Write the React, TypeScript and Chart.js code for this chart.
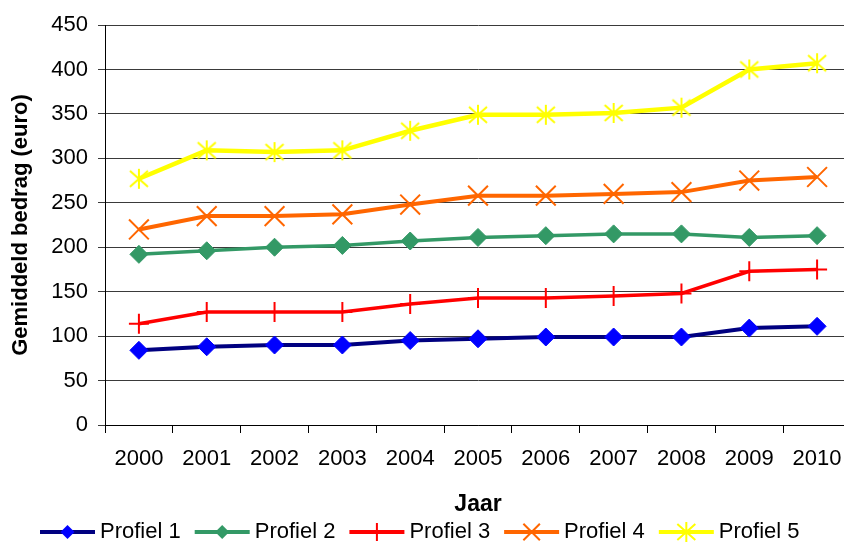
import React, { useEffect, useRef } from "react";
import { Chart, registerables } from "chart.js";

Chart.register(...registerables);

const years = ["2000", "2001", "2002", "2003", "2004", "2005", "2006", "2007", "2008", "2009", "2010"];
const profiel1 = [84, 88, 90, 90, 95, 97, 99, 99, 99, 109, 111];
const profiel2 = [192, 196, 200, 202, 207, 211, 213, 215, 215, 211, 213];
const profiel3 = [114, 127, 127, 127, 136, 143, 143, 145, 148, 173, 175];
const profiel4 = [220, 235, 235, 237, 248, 258, 258, 260, 262, 275, 279];
const profiel5 = [277, 309, 307, 309, 331, 349, 349, 351, 357, 400, 407];
const seriesNames = ["Profiel 1", "Profiel 2", "Profiel 3", "Profiel 4", "Profiel 5"];
const yTicks = [0, 50, 100, 150, 200, 250, 300, 350, 400, 450];

const FONT = "'Liberation Sans', Arial, sans-serif";

function makeStar(color: string, r: number, lw: number) {
  const size = Math.ceil(r * 2 + lw * 2 + 2);
  const c = document.createElement("canvas");
  c.width = size;
  c.height = size;
  const ctx = c.getContext("2d")!;
  const cx = size / 2;
  const cy = size / 2;
  ctx.strokeStyle = color;
  ctx.lineWidth = lw;
  ctx.beginPath();
  ctx.moveTo(cx, cy - r);
  ctx.lineTo(cx, cy + r);
  ctx.moveTo(cx - r * 0.9, cy - r * 0.8);
  ctx.lineTo(cx + r * 0.9, cy + r * 0.8);
  ctx.moveTo(cx + r * 0.9, cy - r * 0.8);
  ctx.lineTo(cx - r * 0.9, cy + r * 0.8);
  ctx.stroke();
  return c;
}

function drawMarker(ctx: CanvasRenderingContext2D, style: string, x: number, y: number, r: number, color: string) {
  ctx.save();
  ctx.fillStyle = color;
  ctx.strokeStyle = color;
  ctx.lineWidth = 2;
  ctx.beginPath();
  if (style === "rectRot") {
    ctx.moveTo(x - r, y);
    ctx.lineTo(x, y - r);
    ctx.lineTo(x + r, y);
    ctx.lineTo(x, y + r);
    ctx.closePath();
    ctx.fill();
  } else if (style === "cross") {
    ctx.moveTo(x, y - r);
    ctx.lineTo(x, y + r);
    ctx.moveTo(x - r, y);
    ctx.lineTo(x + r, y);
    ctx.stroke();
  } else if (style === "crossRot") {
    const d = r * 0.75;
    ctx.moveTo(x - d, y - d);
    ctx.lineTo(x + d, y + d);
    ctx.moveTo(x + d, y - d);
    ctx.lineTo(x - d, y + d);
    ctx.stroke();
  } else if (style === "star") {
    ctx.moveTo(x, y - r);
    ctx.lineTo(x, y + r);
    ctx.moveTo(x - r * 0.9, y - r * 0.8);
    ctx.lineTo(x + r * 0.9, y + r * 0.8);
    ctx.moveTo(x + r * 0.9, y - r * 0.8);
    ctx.lineTo(x - r * 0.9, y + r * 0.8);
    ctx.stroke();
  }
  ctx.restore();
}

export default function App() {
  const ref = useRef<HTMLCanvasElement | null>(null);

  useEffect(() => {
    if (!ref.current) return;
    const star = makeStar("#FFFF00", 10, 2);

    const legendInfo = [
      { line: "#000080", marker: "#0000FF", style: "rectRot", r: 7, lw: 4 },
      { line: "#339966", marker: "#339966", style: "rectRot", r: 7, lw: 4 },
      { line: "#FF0000", marker: "#FF0000", style: "cross", r: 9, lw: 4 },
      { line: "#FF6600", marker: "#FF6600", style: "crossRot", r: 11, lw: 4 },
      { line: "#FFFF00", marker: "#FFFF00", style: "star", r: 10, lw: 4 },
    ];

    const legendPlugin = {
      id: "customLegend",
      afterDraw(chart: any) {
        const ctx = chart.ctx as CanvasRenderingContext2D;
        ctx.save();
        ctx.font = `22px ${FONT}`;
        ctx.textBaseline = "middle";
        ctx.textAlign = "left";
        let x = 40;
        const y = 532;
        seriesNames.forEach((name, i) => {
          const info = legendInfo[i];
          ctx.strokeStyle = info.line;
          ctx.lineWidth = info.lw;
          ctx.beginPath();
          ctx.moveTo(x, y);
          ctx.lineTo(x + 55, y);
          ctx.stroke();
          drawMarker(ctx, info.style, x + 27.5, y, info.r, info.marker);
          ctx.fillStyle = "#000000";
          ctx.fillText(name, x + 60, y);
          x += 60 + ctx.measureText(name).width + 14;
        });
        ctx.restore();
      },
    };

    const chart = new Chart(ref.current, {
      type: "line",
      data: {
        labels: years,
        datasets: [
          {
            label: seriesNames[0],
            data: profiel1,
            borderColor: "#000080",
            backgroundColor: "#0000FF",
            borderWidth: 4,
            pointStyle: "rectRot",
            pointRadius: 9,
            pointBorderWidth: 1,
            pointBorderColor: "#0000FF",
            pointBackgroundColor: "#0000FF",
          },
          {
            label: seriesNames[1],
            data: profiel2,
            borderColor: "#339966",
            backgroundColor: "#339966",
            borderWidth: 3.5,
            pointStyle: "rectRot",
            pointRadius: 9,
            pointBorderWidth: 1,
            pointBorderColor: "#339966",
            pointBackgroundColor: "#339966",
          },
          {
            label: seriesNames[2],
            data: profiel3,
            borderColor: "#FF0000",
            backgroundColor: "#FF0000",
            borderWidth: 3.5,
            pointStyle: "cross",
            pointRadius: 10,
            pointBorderWidth: 2,
            pointBorderColor: "#FF0000",
          },
          {
            label: seriesNames[3],
            data: profiel4,
            borderColor: "#FF6600",
            backgroundColor: "#FF6600",
            borderWidth: 4,
            pointStyle: "crossRot",
            pointRadius: 14,
            pointBorderWidth: 2,
            pointBorderColor: "#FF6600",
          },
          {
            label: seriesNames[4],
            data: profiel5,
            borderColor: "#FFFF00",
            backgroundColor: "#FFFF00",
            borderWidth: 4.5,
            pointStyle: star as any,
            pointRadius: 10,
          },
        ],
      },
      options: {
        responsive: false,
        animation: false,
        layout: { padding: { top: 25, left: 0, right: 0, bottom: 0 } },
        plugins: {
          legend: { display: false },
          tooltip: { enabled: false },
        },
        scales: {
          x: {
            type: "category",
            offset: true,
            grid: {
              offset: true,
              drawOnChartArea: false,
              drawTicks: true,
              tickLength: 8,
              color: "#000000",
              lineWidth: 1,
            },
            border: { display: true, color: "#000000", width: 1 },
            ticks: {
              color: "#000000",
              font: { family: FONT, size: 22 },
              padding: 13,
              maxRotation: 0,
              autoSkip: false,
            },
            title: {
              display: true,
              text: "Jaar",
              color: "#000000",
              font: { family: FONT, size: 23, weight: "bold" },
              padding: { top: 0, bottom: 25 },
            },
            afterFit(scale: any) {
              scale.height = 118;
            },
          },
          y: {
            min: 0,
            max: 450,
            afterBuildTicks(scale: any) {
              scale.ticks = yTicks.map((v) => ({ value: v }));
            },
            grid: {
              drawOnChartArea: true,
              drawTicks: true,
              tickLength: 7,
              color: "#3a3a3a",
              lineWidth: 1,
            },
            border: { display: true, color: "#000000", width: 1 },
            ticks: {
              color: "#000000",
              font: { family: FONT, size: 22 },
              padding: 10,
            },
            title: {
              display: true,
              text: "Gemiddeld bedrag (euro)",
              color: "#000000",
              font: { family: FONT, size: 22, weight: "bold" },
              padding: { top: 8, bottom: 0 },
            },
            afterFit(scale: any) {
              scale.width = 105;
            },
          },
        },
      },
      plugins: [legendPlugin],
    });

    return () => {
      chart.destroy();
    };
  }, []);

  return (
    <div
      style={{
        position: "fixed",
        left: 0,
        top: 0,
        width: 844,
        height: 543,
        overflow: "hidden",
        background: "#ffffff",
      }}
    >
      <canvas ref={ref} width={867} height={543} style={{ display: "block", width: 867, height: 543 }} />
    </div>
  );
}
